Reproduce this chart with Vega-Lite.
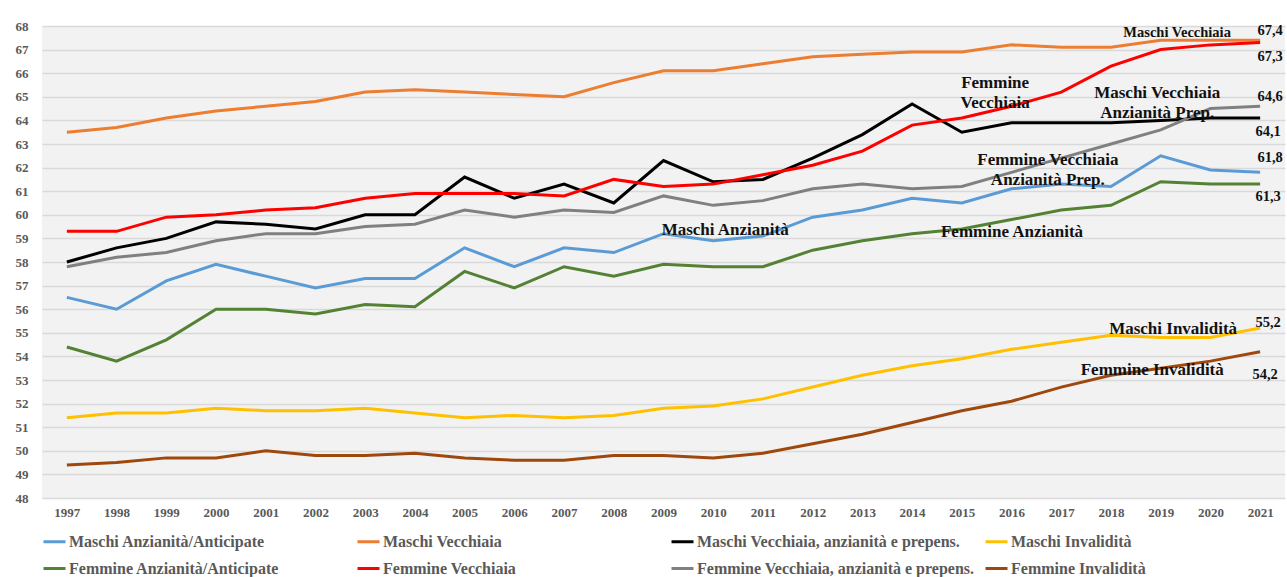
{
  "$schema": "https://vega.github.io/schema/vega-lite/v6.json",
  "width": 1243,
  "height": 472,
  "autosize": {"type": "none"},
  "padding": {"left": 42, "top": 26, "right": 2, "bottom": 79},
  "background": "white",
  "config": {"view": {"fill": "#f2f2f2", "stroke": null}, "font": "Liberation Serif"},
  "datasets": {
    "wide": [
      {"year": 1997, "MA": 56.5, "MV": 63.5, "MT": 58.0, "MI": 51.4, "FA": 54.4, "FV": 59.3, "FT": 57.8, "FI": 49.4},
      {"year": 1998, "MA": 56.0, "MV": 63.7, "MT": 58.6, "MI": 51.6, "FA": 53.8, "FV": 59.3, "FT": 58.2, "FI": 49.5},
      {"year": 1999, "MA": 57.2, "MV": 64.1, "MT": 59.0, "MI": 51.6, "FA": 54.7, "FV": 59.9, "FT": 58.4, "FI": 49.7},
      {"year": 2000, "MA": 57.9, "MV": 64.4, "MT": 59.7, "MI": 51.8, "FA": 56.0, "FV": 60.0, "FT": 58.9, "FI": 49.7},
      {"year": 2001, "MA": 57.4, "MV": 64.6, "MT": 59.6, "MI": 51.7, "FA": 56.0, "FV": 60.2, "FT": 59.2, "FI": 50.0},
      {"year": 2002, "MA": 56.9, "MV": 64.8, "MT": 59.4, "MI": 51.7, "FA": 55.8, "FV": 60.3, "FT": 59.2, "FI": 49.8},
      {"year": 2003, "MA": 57.3, "MV": 65.2, "MT": 60.0, "MI": 51.8, "FA": 56.2, "FV": 60.7, "FT": 59.5, "FI": 49.8},
      {"year": 2004, "MA": 57.3, "MV": 65.3, "MT": 60.0, "MI": 51.6, "FA": 56.1, "FV": 60.9, "FT": 59.6, "FI": 49.9},
      {"year": 2005, "MA": 58.6, "MV": 65.2, "MT": 61.6, "MI": 51.4, "FA": 57.6, "FV": 60.9, "FT": 60.2, "FI": 49.7},
      {"year": 2006, "MA": 57.8, "MV": 65.1, "MT": 60.7, "MI": 51.5, "FA": 56.9, "FV": 60.9, "FT": 59.9, "FI": 49.6},
      {"year": 2007, "MA": 58.6, "MV": 65.0, "MT": 61.3, "MI": 51.4, "FA": 57.8, "FV": 60.8, "FT": 60.2, "FI": 49.6},
      {"year": 2008, "MA": 58.4, "MV": 65.6, "MT": 60.5, "MI": 51.5, "FA": 57.4, "FV": 61.5, "FT": 60.1, "FI": 49.8},
      {"year": 2009, "MA": 59.2, "MV": 66.1, "MT": 62.3, "MI": 51.8, "FA": 57.9, "FV": 61.2, "FT": 60.8, "FI": 49.8},
      {"year": 2010, "MA": 58.9, "MV": 66.1, "MT": 61.4, "MI": 51.9, "FA": 57.8, "FV": 61.3, "FT": 60.4, "FI": 49.7},
      {"year": 2011, "MA": 59.1, "MV": 66.4, "MT": 61.5, "MI": 52.2, "FA": 57.8, "FV": 61.7, "FT": 60.6, "FI": 49.9},
      {"year": 2012, "MA": 59.9, "MV": 66.7, "MT": 62.4, "MI": 52.7, "FA": 58.5, "FV": 62.1, "FT": 61.1, "FI": 50.3},
      {"year": 2013, "MA": 60.2, "MV": 66.8, "MT": 63.4, "MI": 53.2, "FA": 58.9, "FV": 62.7, "FT": 61.3, "FI": 50.7},
      {"year": 2014, "MA": 60.7, "MV": 66.9, "MT": 64.7, "MI": 53.6, "FA": 59.2, "FV": 63.8, "FT": 61.1, "FI": 51.2},
      {"year": 2015, "MA": 60.5, "MV": 66.9, "MT": 63.5, "MI": 53.9, "FA": 59.4, "FV": 64.1, "FT": 61.2, "FI": 51.7},
      {"year": 2016, "MA": 61.1, "MV": 67.2, "MT": 63.9, "MI": 54.3, "FA": 59.8, "FV": 64.6, "FT": 61.8, "FI": 52.1},
      {"year": 2017, "MA": 61.3, "MV": 67.1, "MT": 63.9, "MI": 54.6, "FA": 60.2, "FV": 65.2, "FT": 62.4, "FI": 52.7},
      {"year": 2018, "MA": 61.2, "MV": 67.1, "MT": 63.9, "MI": 54.9, "FA": 60.4, "FV": 66.3, "FT": 63.0, "FI": 53.2},
      {"year": 2019, "MA": 62.5, "MV": 67.4, "MT": 64.0, "MI": 54.8, "FA": 61.4, "FV": 67.0, "FT": 63.6, "FI": 53.5},
      {"year": 2020, "MA": 61.9, "MV": 67.4, "MT": 64.1, "MI": 54.8, "FA": 61.3, "FV": 67.2, "FT": 64.5, "FI": 53.8},
      {"year": 2021, "MA": 61.8, "MV": 67.4, "MT": 64.1, "MI": 55.2, "FA": 61.3, "FV": 67.3, "FT": 64.6, "FI": 54.2}
    ],
    "names": [
      {"year": 2015.67, "v": 65.58, "t": "Femmine\nVecchiaia"},
      {"year": 2018.93, "v": 65.18, "t": "Maschi Vecchiaia\nAnzianità  Prep."},
      {"year": 2016.73, "v": 62.32, "t": "Femmine Vecchiaia\nAnzianità  Prep."},
      {"year": 2010.24, "v": 59.36, "t": "Maschi Anzianità"},
      {"year": 2016.01, "v": 59.27, "t": "Femmine Anzianità"},
      {"year": 2019.25, "v": 55.16, "t": "Maschi Invalidità"},
      {"year": 2018.83, "v": 53.42, "t": "Femmine Invalidità"}
    ],
    "top": [
      {"year": 2019.33, "v": 67.7, "t": "Maschi Vecchiaia"}
    ],
    "vals": [
      {"year": 2021.2, "v": 67.79, "t": "67,4"},
      {"year": 2021.2, "v": 66.69, "t": "67,3"},
      {"year": 2021.2, "v": 64.99, "t": "64,6"},
      {"year": 2021.16, "v": 63.51, "t": "64,1"},
      {"year": 2021.2, "v": 62.41, "t": "61,8"},
      {"year": 2021.16, "v": 60.75, "t": "61,3"},
      {"year": 2021.16, "v": 55.42, "t": "55,2"},
      {"year": 2021.1, "v": 53.21, "t": "54,2"}
    ]
  },
  "encoding": {
    "x": {
      "field": "year", "type": "quantitative",
      "scale": {"domain": [1996.5, 2021.5], "nice": false, "zero": false},
      "axis": {
        "values": [1997, 1998, 1999, 2000, 2001, 2002, 2003, 2004, 2005, 2006, 2007, 2008, 2009, 2010, 2011, 2012, 2013, 2014, 2015, 2016, 2017, 2018, 2019, 2020, 2021],
        "tickCount": 40, "format": "d", "grid": false, "domain": false, "ticks": false, "title": null,
        "labelFont": "Liberation Serif", "labelFontSize": 13, "labelFontWeight": "bold",
        "labelColor": "#595959", "labelPadding": 8, "labelFlush": false, "labelOverlap": false
      }
    },
    "y": {
      "field": "v", "type": "quantitative",
      "scale": {"domain": [48, 68], "nice": false, "zero": false},
      "axis": {
        "values": [48, 49, 50, 51, 52, 53, 54, 55, 56, 57, 58, 59, 60, 61, 62, 63, 64, 65, 66, 67, 68],
        "tickCount": 40, "format": "d",
        "grid": true, "gridColor": "#d9d9d9", "gridWidth": 1.5, "domain": false, "ticks": false, "title": null,
        "labelFont": "Liberation Serif", "labelFontSize": 13, "labelFontWeight": "bold",
        "labelColor": "#595959", "labelPadding": 14, "labelOverlap": false
      }
    }
  },
  "layer": [
    {
      "data": {"name": "wide"},
      "transform": [{"fold": ["MA", "MV", "MT", "MI", "FA", "FV", "FT", "FI"], "as": ["s", "v"]}],
      "mark": {"type": "line", "strokeWidth": 3},
      "encoding": {
        "color": {
          "field": "s", "type": "nominal",
          "scale": {
            "domain": ["MA", "MV", "MT", "MI", "FA", "FV", "FT", "FI"],
            "range": ["#5b9bd5", "#ed7d31", "#000000", "#ffc000", "#548235", "#ff0000", "#808080", "#9e480e"]
          },
          "legend": {
            "orient": "bottom", "columns": 4, "gridAlign": "all", "title": null, "symbolType": "stroke",
            "symbolStrokeWidth": 3, "symbolSize": 484, "labelFont": "Liberation Serif",
            "labelFontSize": 16, "labelFontWeight": "bold", "labelColor": "#595959", "labelLimit": 600,
            "rowPadding": 6, "columnPadding": 4, "labelOffset": 2, "offset": 10,
            "labelExpr": "datum.label == 'MA' ? 'Maschi Anzianità/Anticipate' : datum.label == 'MV' ? 'Maschi Vecchiaia' : datum.label == 'MT' ? 'Maschi Vecchiaia, anzianità e prepens.' : datum.label == 'MI' ? 'Maschi Invalidità' : datum.label == 'FA' ? 'Femmine Anzianità/Anticipate' : datum.label == 'FV' ? 'Femmine Vecchiaia' : datum.label == 'FT' ? 'Femmine Vecchiaia, anzianità e prepens.' : 'Femmine Invalidità'"
          }
        }
      }
    },
    {
      "data": {"name": "names"},
      "mark": {"type": "text", "font": "Liberation Serif", "fontSize": 17, "fontWeight": "bold", "color": "#111111", "lineBreak": "\n", "lineHeight": 20},
      "encoding": {"text": {"field": "t"}}
    },
    {
      "data": {"name": "top"},
      "mark": {"type": "text", "font": "Liberation Serif", "fontSize": 14.5, "fontWeight": "bold", "color": "#111111"},
      "encoding": {"text": {"field": "t"}}
    },
    {
      "data": {"name": "vals"},
      "mark": {"type": "text", "font": "Liberation Serif", "fontSize": 14.5, "fontWeight": "bold", "color": "#111111"},
      "encoding": {"text": {"field": "t"}}
    }
  ]
}
